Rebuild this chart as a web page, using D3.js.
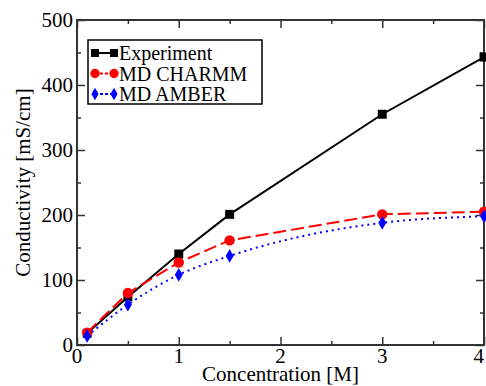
<!DOCTYPE html>
<html>
<head>
<meta charset="utf-8">
<script src="https://cdn.jsdelivr.net/npm/d3@7/dist/d3.min.js"></script>
</head>
<body style="margin:0">
<script>
// data
const concentration = [0.1, 0.5, 1, 1.5, 3, 4]
const experiment = [18, 74, 140, 201, 355, 443]
const charmm = [19, 80, 127, 161, 201, 205]
const amber = [14, 62, 108, 137, 188, 198]
const xTicks = [0, 1, 2, 3, 4]
const yTicks = [0, 100, 200, 300, 400, 500]
const seriesNames = ['Experiment', 'MD CHARMM', 'MD AMBER']

const width = 486, height = 386
const margin = { top: 20, right: 2, bottom: 41, left: 77 }
const fontFam = 'Times New Roman'

const svg = d3.select('body').append('svg')
  .attr('width', width)
  .attr('height', height)
  .attr('font-family', fontFam)

const x = d3.scaleLinear().domain([0, 4]).range([margin.left, width - margin.right])
const y = d3.scaleLinear().domain([0, 500]).range([height - margin.bottom, margin.top])

const axisColor = '#333'

// ticks on all four sides, pointing inward
const xMinor = d3.range(0.5, 4, 1)
const yMinor = d3.range(50, 500, 100)

function tickAxis(axisFn, scale, values, size, pos) {
  const g = svg.append('g')
    .attr('transform', pos)
    .call(axisFn(scale).tickValues(values).tickSize(size).tickFormat(''))
  g.select('.domain').remove()
  g.selectAll('line').attr('stroke', axisColor).attr('stroke-width', 1.5)
  return g
}

const plotBottom = height - margin.bottom, plotTop = margin.top
const plotLeft = margin.left, plotRight = width - margin.right

tickAxis(d3.axisTop, x, xTicks, 8, `translate(0,${plotBottom})`)
tickAxis(d3.axisTop, x, xMinor, 4, `translate(0,${plotBottom})`)
tickAxis(d3.axisBottom, x, xTicks, 8, `translate(0,${plotTop})`)
tickAxis(d3.axisBottom, x, xMinor, 4, `translate(0,${plotTop})`)
tickAxis(d3.axisRight, y, yTicks, 8, `translate(${plotLeft},0)`)
tickAxis(d3.axisRight, y, yMinor, 4, `translate(${plotLeft},0)`)
tickAxis(d3.axisLeft, y, yTicks, 8, `translate(${plotRight},0)`)
tickAxis(d3.axisLeft, y, yMinor, 4, `translate(${plotRight},0)`)

// tick labels
svg.append('g').selectAll('text')
  .data(xTicks)
  .enter().append('text')
  .attr('x', d => x(d))
  .attr('y', plotBottom + 18)
  .attr('text-anchor', d => d === 4 ? 'end' : 'middle')
  .attr('font-family', fontFam)
  .attr('font-size', 21)
  .text(d => d)

svg.append('g').selectAll('text')
  .data(yTicks)
  .enter().append('text')
  .attr('x', plotLeft - 4)
  .attr('y', d => y(d) + 7)
  .attr('text-anchor', 'end')
  .attr('font-family', fontFam)
  .attr('font-size', 21)
  .text(d => d)

// frame
svg.append('rect')
  .attr('x', plotLeft).attr('y', plotTop)
  .attr('width', plotRight - plotLeft).attr('height', plotBottom - plotTop)
  .attr('fill', 'none')
  .attr('stroke', axisColor)
  .attr('stroke-width', 2)

// axis titles
svg.append('text')
  .attr('x', (plotLeft + plotRight) / 2)
  .attr('y', height - 5)
  .attr('text-anchor', 'middle')
  .attr('font-family', fontFam)
  .attr('font-size', 21)
  .text('Concentration [M]')

svg.append('text')
  .attr('transform', `translate(30,${(plotTop + plotBottom) / 2}) rotate(-90)`)
  .attr('text-anchor', 'middle')
  .attr('font-family', fontFam)
  .attr('font-size', 21)
  .text('Conductivity [mS/cm]')

const series = [
  { name: seriesNames[0], values: experiment, color: '#000', dash: null, shape: d3.symbolSquare, size: 80, curve: d3.curveLinear },
  { name: seriesNames[1], values: charmm, color: '#ff0000', dash: '13,5', shape: d3.symbolCircle, size: 85, curve: d3.curveLinear },
  { name: seriesNames[2], values: amber, color: '#0000ff', dash: '2,4', shape: d3.symbolDiamond, size: 55, curve: d3.curveMonotoneX }
]

series.forEach(s => {
  const pts = concentration.map((c, i) => [c, s.values[i]])
  const line = d3.line()
    .x(d => x(d[0]))
    .y(d => y(d[1]))
    .curve(s.curve)

  svg.append('path')
    .datum(pts)
    .attr('fill', 'none')
    .attr('stroke', s.color)
    .attr('stroke-width', 2)
    .attr('stroke-dasharray', s.dash)
    .attr('d', line)

  svg.append('g').selectAll('path')
    .data(pts)
    .enter().append('path')
    .attr('transform', d => `translate(${x(d[0])},${y(d[1])})`)
    .attr('d', d3.symbol().type(s.shape).size(s.size))
    .attr('fill', s.color)
})

// legend
const legend = svg.append('g')
legend.append('rect')
  .attr('x', 88).attr('y', 40)
  .attr('width', 174).attr('height', 64)
  .attr('fill', '#fff')
  .attr('stroke', '#000')
  .attr('stroke-width', 1.5)

series.forEach((s, i) => {
  const ly = 53 + i * 20.5
  legend.append('line')
    .attr('x1', 95).attr('x2', 114)
    .attr('y1', ly).attr('y2', ly)
    .attr('stroke', s.color)
    .attr('stroke-width', 2)
    .attr('stroke-dasharray', s.dash ? '3,2' : null)
  ;[95, 114].forEach(px => {
    legend.append('path')
      .attr('transform', `translate(${px},${ly})`)
      .attr('d', d3.symbol().type(s.shape).size(s.size * 0.8))
      .attr('fill', s.color)
  })
  legend.append('text')
    .attr('x', 119)
    .attr('y', ly + 7)
    .attr('font-family', fontFam)
    .attr('font-size', 20)
    .text(s.name)
})
</script>
</body>
</html>
